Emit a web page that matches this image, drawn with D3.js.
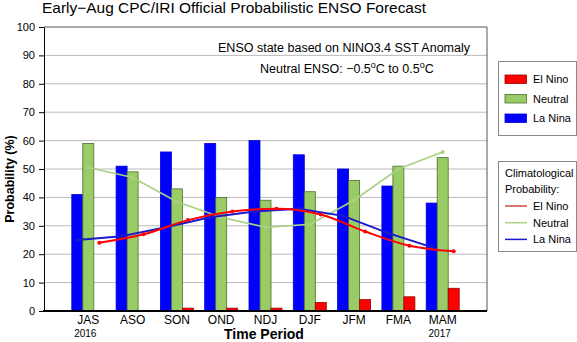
<!DOCTYPE html>
<html>
<head>
<meta charset="utf-8">
<script src="https://cdn.jsdelivr.net/npm/d3@7"></script>
<style>
  body { margin: 0; background: #fff; }
  svg { display: block; font-family: "Liberation Sans", Arial, sans-serif; }
</style>
</head>
<body>
<svg id="chart" width="577" height="342"></svg>
<script>
"use strict";

// forecast probabilities
var seasons = ["JAS", "ASO", "SON", "OND", "NDJ", "DJF", "JFM", "FMA", "MAM"];
var laNina  = [41, 51, 56, 59, 60, 55, 50, 44, 38];
var neutral = [59, 49, 43, 40, 39, 42, 46, 51, 54];
var elNino  = [0, 0, 1, 1, 1, 3, 4, 5, 8];

// climatological probabilities
var climElNino  = [24, 27, 32, 35, 36, 34, 28, 23, 21];
var climNeutral = [50.5, 47, 38.5, 33, 29.5, 30.5, 39, 50, 56];
var climLaNina  = [25, 26.3, 29.5, 33, 35, 36, 33.5, 27.5, 22.5];

var yTicks = [0, 10, 20, 30, 40, 50, 60, 70, 80, 90, 100];
var yearLabels = [{i: 0, text: "2016"}, {i: 8, text: "2017"}];

var RED = "#ff0000", GREEN = "#99cc66", BLUE = "#0000ff";

var svg = d3.select("#chart");
var plotLeft = 44, plotRight = 487, plotTop = 27, plotBottom = 311;

var x = d3.scaleLinear().domain([0, 10]).range([plotLeft, plotRight]);
var y = d3.scaleLinear().domain([0, 100]).range([plotBottom, plotTop]);
var barW = 11;

// grid lines
svg.append("g").selectAll("line")
  .data(yTicks.filter(function(d) { return d > 0 && d < 100; }))
  .enter().append("line")
    .attr("x1", plotLeft).attr("x2", plotRight)
    .attr("y1", function(d) { return y(d); })
    .attr("y2", function(d) { return y(d); })
    .attr("stroke", "#bbbbbb");

// frame top / right
svg.append("path")
  .attr("d", "M" + plotLeft + "," + y(100) + "H" + plotRight + "V" + plotBottom)
  .attr("fill", "none").attr("stroke", "#555").attr("stroke-width", 1);

// bars
function drawBars(values, offset, fill, stroke) {
  svg.append("g").selectAll("rect")
    .data(values)
    .enter().append("rect")
      .attr("x", function(d, i) { return x(i + 1) + offset; })
      .attr("y", function(d) { return y(d); })
      .attr("width", barW)
      .attr("height", function(d) { return y(0) - y(d); })
      .attr("fill", fill)
      .attr("stroke", stroke)
      .attr("stroke-width", 0.8);
}
drawBars(laNina, -16.5, BLUE, "#0000dd");
drawBars(neutral, -5.5, GREEN, "#4d6b2a");
drawBars(elNino, 5.5, RED, "#990000");

// climatology lines
function drawLine(values, offset, color, width, curve) {
  var line = d3.line()
    .x(function(d, i) { return x(i + 1) + offset; })
    .y(function(d) { return y(d); })
    .curve(curve);
  svg.append("path")
    .datum(values)
    .attr("d", line)
    .attr("fill", "none")
    .attr("stroke", color)
    .attr("stroke-width", width);
  svg.append("g").selectAll("circle")
    .data(values)
    .enter().append("circle")
      .attr("cx", function(d, i) { return x(i + 1) + offset; })
      .attr("cy", function(d) { return y(d); })
      .attr("r", 2)
      .attr("fill", color);
}
drawLine(climNeutral, 0, "#a8d080", 1.6, d3.curveLinear);
drawLine(climLaNina, -11, "#1a1acc", 2, d3.curveLinear);
drawLine(climElNino, 11, RED, 2, d3.curveMonotoneX);

// y axis
var yAxis = d3.axisLeft(y).tickValues(yTicks).tickSize(5).tickSizeOuter(0);
var gy = svg.append("g")
  .attr("transform", "translate(" + plotLeft + ",0)")
  .call(yAxis);
gy.select(".domain").attr("stroke", "#000");
gy.selectAll("text")
  .attr("x", -9)
  .style("font-size", "11px")
  .style("font-family", "Liberation Sans, Arial, sans-serif")
  .attr("fill", "#000");

// x axis line
svg.append("line")
  .attr("x1", plotLeft - 1).attr("x2", plotRight)
  .attr("y1", plotBottom).attr("y2", plotBottom)
  .attr("stroke", "#000").attr("stroke-width", 2);

// x labels
svg.append("g").selectAll("text")
  .data(seasons)
  .enter().append("text")
    .attr("x", function(d, i) { return x(i + 1); })
    .attr("y", 323.5)
    .attr("text-anchor", "middle")
    .style("font-size", "12px")
    .text(function(d) { return d; });

svg.append("g").selectAll("text")
  .data(yearLabels)
  .enter().append("text")
    .attr("x", function(d) { return x(d.i + 1) - 3; })
    .attr("y", 336.5)
    .attr("text-anchor", "middle")
    .style("font-size", "10px")
    .text(function(d) { return d.text; });

svg.append("text")
  .attr("x", 264).attr("y", 339)
  .attr("text-anchor", "middle")
  .style("font-size", "14px").style("font-weight", "bold")
  .text("Time Period");

svg.append("text")
  .attr("transform", "translate(14,179) rotate(-90)")
  .attr("text-anchor", "middle")
  .style("font-size", "12.5px").style("font-weight", "bold")
  .text("Probability (%)");

// title
svg.append("text")
  .attr("x", 42).attr("y", 13)
  .attr("textLength", 384).attr("lengthAdjust", "spacingAndGlyphs")
  .style("font-size", "15px")
  .text("Early\u2212Aug CPC/IRI Official Probabilistic ENSO Forecast");

// annotations
svg.append("text")
  .attr("x", 470).attr("y", 51.5)
  .attr("text-anchor", "end")
  .style("font-size", "12.5px")
  .text("ENSO state based on NINO3.4 SST Anomaly");

var note = svg.append("text")
  .attr("x", 260).attr("y", 73)
  .style("font-size", "12.5px");
note.append("tspan").text("Neutral ENSO: \u22120.5");
note.append("tspan").attr("dy", -5).style("font-size", "9px").text("o");
note.append("tspan").attr("dy", 5).text("C to 0.5");
note.append("tspan").attr("dy", -5).style("font-size", "9px").text("o");
note.append("tspan").attr("dy", 5).text("C");

// legend 1: bars
var leg1 = svg.append("g");
leg1.append("rect")
  .attr("x", 498.5).attr("y", 61.5).attr("width", 78).attr("height", 74)
  .attr("fill", "#fff").attr("stroke", "#888");
var barLegend = [
  {label: "El Nino", fill: RED, stroke: "#990000"},
  {label: "Neutral", fill: GREEN, stroke: "#4d6b2a"},
  {label: "La Nina", fill: BLUE, stroke: "#0000dd"}
];
barLegend.forEach(function(d, i) {
  var cy = 79 + i * 19.5;
  leg1.append("rect")
    .attr("x", 505).attr("y", cy - 4).attr("width", 21.5).attr("height", 8.5)
    .attr("fill", d.fill).attr("stroke", d.stroke).attr("stroke-width", 0.8);
  leg1.append("text")
    .attr("x", 533).attr("y", cy + 4)
    .style("font-size", "11px")
    .text(d.label);
});

// legend 2: climatology lines
var leg2 = svg.append("g");
leg2.append("rect")
  .attr("x", 498.5).attr("y", 161.5).attr("width", 78).attr("height", 90)
  .attr("fill", "#fff").attr("stroke", "#888");
leg2.append("text").attr("x", 505).attr("y", 177)
  .style("font-size", "11px").text("Climatological");
leg2.append("text").attr("x", 505).attr("y", 193)
  .style("font-size", "11px").text("Probability:");
var lineLegend = [
  {label: "El Nino", color: "#d04848"},
  {label: "Neutral", color: "#a8d080"},
  {label: "La Nina", color: "#1a1acc"}
];
lineLegend.forEach(function(d, i) {
  var cy = 206 + i * 16.7;
  leg2.append("line")
    .attr("x1", 505).attr("x2", 527)
    .attr("y1", cy).attr("y2", cy)
    .attr("stroke", d.color).attr("stroke-width", 1.5);
  leg2.append("text")
    .attr("x", 533).attr("y", cy + 4)
    .style("font-size", "11px")
    .text(d.label);
});
</script>
</body>
</html>
